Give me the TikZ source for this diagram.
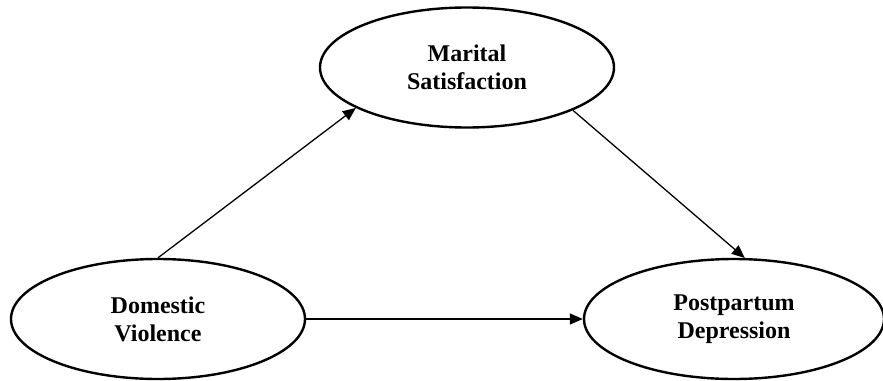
\documentclass[tikz,border=0pt]{standalone}
\usepackage{fontspec}
\setmainfont{Liberation Serif}
\usetikzlibrary{shapes.geometric,arrows.meta}
\begin{document}
\begin{tikzpicture}[x=1pt,y=1pt,
  construct/.style={ellipse,draw=black,line width=2.4pt,minimum width=294pt,minimum height=120pt,inner sep=0pt,
    font=\fontsize{24}{28}\selectfont\bfseries,align=center},
  path/.style={line width=1.3pt,-{Triangle[length=13pt,width=11pt]}}]
\useasboundingbox (0,0) rectangle (883,-380);
\node[construct] (ms) at (467,-67.5) {Marital\\Satisfaction};
\node[construct] (dv) at (158,-319) {Domestic\\Violence};
\node[construct,minimum width=300pt] (pd) at (734,-319) {Postpartum\\Depression};
\draw[path] (dv.north) -- (ms.200);
\draw[path] (ms.338) -- (pd.80);
\draw[path] (dv.east) -- (pd.west);
\end{tikzpicture}
\end{document}
